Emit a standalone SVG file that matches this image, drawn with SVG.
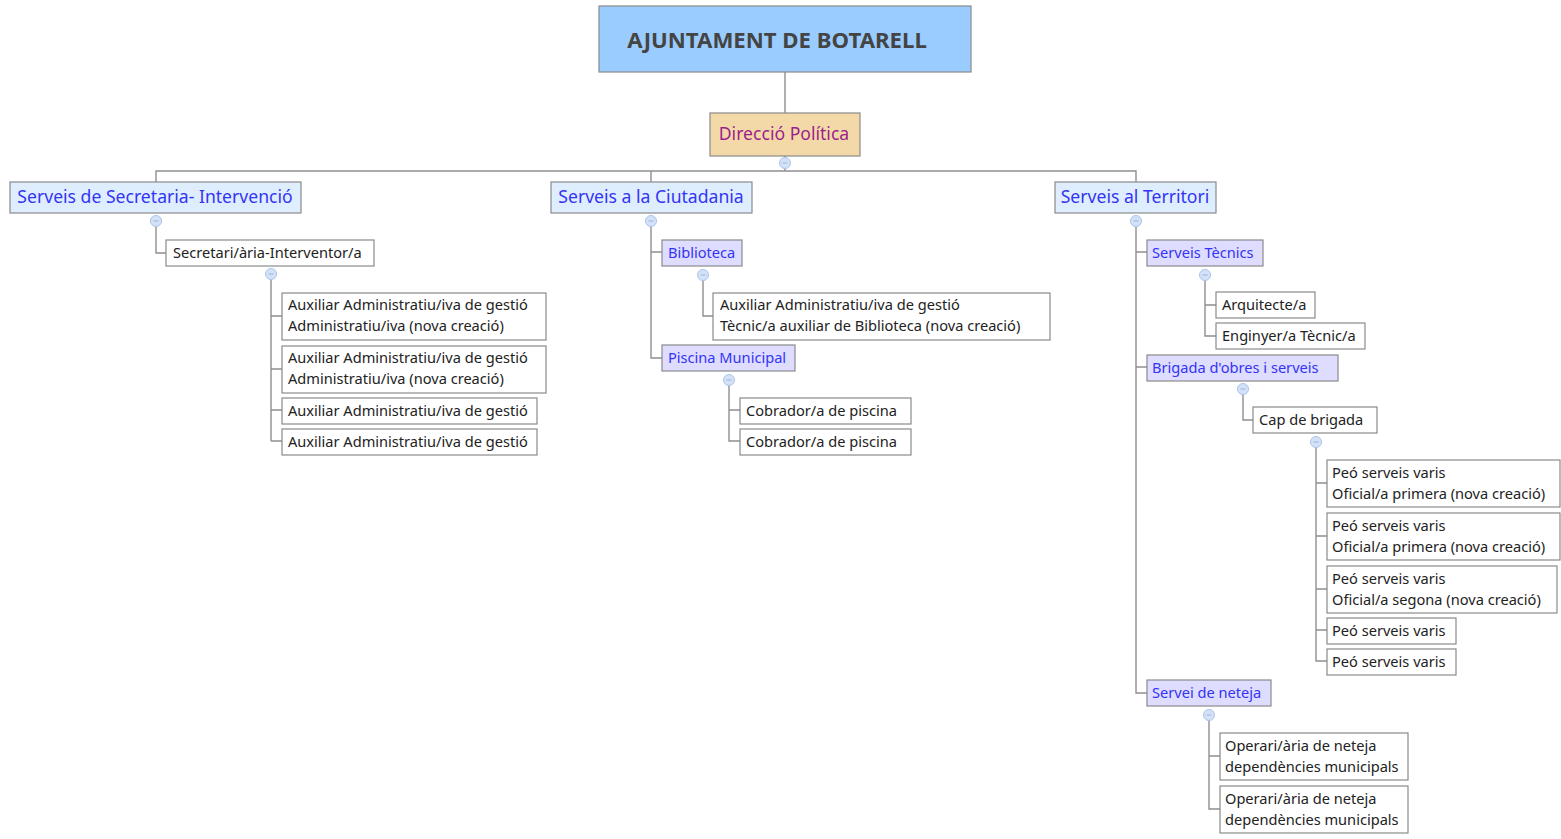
<svg xmlns="http://www.w3.org/2000/svg" width="1561" height="839" viewBox="0 0 1561 839">
<style>
.bx{stroke:#8a8a8a;stroke-width:1.2}
.root{fill:#9accff}
.pol{fill:#f3d9a7}
.l1{fill:#deeeff}
.l2{fill:#dedcff}
.w{fill:#ffffff}
text{font-family:"Noto Sans","Open Sans","DejaVu Sans",sans-serif}
.t{font-size:14.6px;fill:#222}
.tb{font-size:14.6px;fill:#3434f5}
.t1{font-size:17.6px;fill:#3434f5;text-anchor:middle}
.c{fill:none;stroke:#8f8f8f;stroke-width:1.4}
.cc{fill:#d4e2f7;stroke:#a9c3ea;stroke-width:1}
</style>
<defs>
<g id="col"><circle r="5.5" class="cc"/><line x1="-2.5" y1="0" x2="2.5" y2="0" stroke="#9ab2d8" stroke-width="1"/></g>
</defs>
<g id="connectors">
<path class="c" d="M785 72V113 M785 156V171 M156 182V171H1136V182 M651 171V182"/>
<path class="c" d="M156 226V253H166 M271 279V441 M271 316H282 M271 369H282 M271 410H282 M271 441H282"/>
<path class="c" d="M651 226V358H662 M651 252H662 M703 280V316H713 M729 385V441H740 M729 410H740"/>
<path class="c" d="M1136 226V693H1147 M1136 252H1147 M1136 367H1147 M1205 280V336H1216 M1205 305H1216 M1243 394V420H1253 M1316 447V661H1327 M1316 483H1327 M1316 536H1327 M1316 589H1327 M1316 630H1327 M1209 720V809H1220 M1209 756H1220"/>
</g>
<g id="root"><rect class="bx root" x="599" y="6" width="372" height="66"/><text x="777" y="48" text-anchor="middle" font-size="22.2" font-weight="bold" fill="#444">AJUNTAMENT DE BOTARELL</text></g>
<g id="direccio"><rect class="bx pol" x="710" y="113" width="150" height="43"/><text x="784" y="140" text-anchor="middle" font-size="17.6" fill="#9c1f8c">Direcció Política</text><use href="#col" x="785" y="163"/></g>
<g id="secretaria"><rect class="bx l1" x="10" y="182" width="291" height="31"/><text class="t1" x="155" y="203">Serveis de Secretaria- Intervenció</text><use href="#col" x="156" y="221"/></g>
<g id="ciutadania"><rect class="bx l1" x="551" y="182" width="201" height="31"/><text class="t1" x="651" y="203">Serveis a la Ciutadania</text><use href="#col" x="651" y="221"/></g>
<g id="territori"><rect class="bx l1" x="1055" y="182" width="161" height="31"/><text class="t1" x="1135" y="203">Serveis al Territori</text><use href="#col" x="1136" y="221"/></g>
<g id="secretari"><rect class="bx w" x="166" y="240" width="208" height="26"/><text class="t" x="173" y="258">Secretari/ària-Interventor/a</text><use href="#col" x="271" y="274"/></g>
<g id="aux1"><rect class="bx w" x="282" y="293" width="264" height="47"/><text class="t" x="288" y="310">Auxiliar Administratiu/iva de gestió</text><text class="t" x="288" y="331">Administratiu/iva (nova creació)</text></g>
<g id="aux2"><rect class="bx w" x="282" y="346" width="264" height="47"/><text class="t" x="288" y="363">Auxiliar Administratiu/iva de gestió</text><text class="t" x="288" y="384">Administratiu/iva (nova creació)</text></g>
<g id="aux3"><rect class="bx w" x="282" y="398" width="255" height="26"/><text class="t" x="288" y="416">Auxiliar Administratiu/iva de gestió</text></g>
<g id="aux4"><rect class="bx w" x="282" y="429" width="255" height="26"/><text class="t" x="288" y="447">Auxiliar Administratiu/iva de gestió</text></g>
<g id="biblioteca"><rect class="bx l2" x="662" y="240" width="80" height="26"/><text class="tb" x="668" y="258">Biblioteca</text><use href="#col" x="703" y="275"/></g>
<g id="bib1"><rect class="bx w" x="713" y="293" width="337" height="47"/><text class="t" x="720" y="310">Auxiliar Administratiu/iva de gestió</text><text class="t" x="720" y="331">Tècnic/a auxiliar de Biblioteca (nova creació)</text></g>
<g id="piscina"><rect class="bx l2" x="662" y="345" width="133" height="26"/><text class="tb" x="668" y="363">Piscina Municipal</text><use href="#col" x="729" y="380"/></g>
<g id="cob1"><rect class="bx w" x="740" y="398" width="171" height="26"/><text class="t" x="746" y="416">Cobrador/a de piscina</text></g>
<g id="cob2"><rect class="bx w" x="740" y="429" width="171" height="26"/><text class="t" x="746" y="447">Cobrador/a de piscina</text></g>
<g id="tecnics"><rect class="bx l2" x="1147" y="240" width="116" height="26"/><text class="tb" x="1152" y="258">Serveis Tècnics</text><use href="#col" x="1205" y="275"/></g>
<g id="arquitecte"><rect class="bx w" x="1216" y="292" width="99" height="26"/><text class="t" x="1222" y="310">Arquitecte/a</text></g>
<g id="enginyer"><rect class="bx w" x="1216" y="323" width="149" height="26"/><text class="t" x="1222" y="341">Enginyer/a Tècnic/a</text></g>
<g id="brigada"><rect class="bx l2" x="1147" y="355" width="191" height="26"/><text class="tb" x="1152" y="373">Brigada d'obres i serveis</text><use href="#col" x="1243" y="389"/></g>
<g id="cap"><rect class="bx w" x="1253" y="407" width="124" height="26"/><text class="t" x="1259" y="425">Cap de brigada</text><use href="#col" x="1316" y="442"/></g>
<g id="peo1"><rect class="bx w" x="1327" y="460" width="233" height="47"/><text class="t" x="1332" y="478">Peó serveis varis</text><text class="t" x="1332" y="499">Oficial/a primera (nova creació)</text></g>
<g id="peo2"><rect class="bx w" x="1327" y="513" width="233" height="47"/><text class="t" x="1332" y="531">Peó serveis varis</text><text class="t" x="1332" y="552">Oficial/a primera (nova creació)</text></g>
<g id="peo3"><rect class="bx w" x="1327" y="566" width="230" height="47"/><text class="t" x="1332" y="584">Peó serveis varis</text><text class="t" x="1332" y="605">Oficial/a segona (nova creació)</text></g>
<g id="peo4"><rect class="bx w" x="1327" y="618" width="129" height="26"/><text class="t" x="1332" y="636">Peó serveis varis</text></g>
<g id="peo5"><rect class="bx w" x="1327" y="649" width="129" height="26"/><text class="t" x="1332" y="667">Peó serveis varis</text></g>
<g id="neteja"><rect class="bx l2" x="1147" y="680" width="124" height="26"/><text class="tb" x="1152" y="698">Servei de neteja</text><use href="#col" x="1209" y="715"/></g>
<g id="op1"><rect class="bx w" x="1220" y="733" width="188" height="47"/><text class="t" x="1225" y="751">Operari/ària de neteja</text><text class="t" x="1225" y="772">dependències municipals</text></g>
<g id="op2"><rect class="bx w" x="1220" y="786" width="188" height="47"/><text class="t" x="1225" y="804">Operari/ària de neteja</text><text class="t" x="1225" y="825">dependències municipals</text></g>
</svg>
